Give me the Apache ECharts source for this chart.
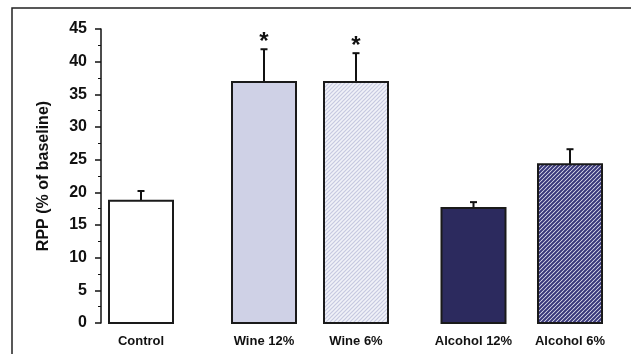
<!DOCTYPE html>
<html>
<head>
<meta charset="utf-8">
<script src="https://cdn.jsdelivr.net/npm/echarts@6/dist/echarts.min.js"></script>
<style>
  html, body { margin: 0; padding: 0; background: #fff; }
  #chart { width: 631px; height: 354px; }
</style>
</head>
<body>
<div id="chart"></div>
<script>
// data
var groups = ['Control', 'Wine 12%', 'Wine 6%', 'Alcohol 12%', 'Alcohol 6%'];
var rppMean = [18.7, 36.9, 36.9, 17.6, 24.3];
var rppErr = [1.5, 5.0, 4.4, 0.9, 2.3];
var starred = [false, true, true, false, false];
var yTicks = [0, 5, 10, 15, 20, 25, 30, 35, 40, 45];

// layout: where each group sits along the (hidden) x scale
var groupPos = [4.0, 16.3, 25.5, 37.25, 46.9];
var barHalf = 3.2;

function hatch(bg, fg, size, lw) {
    var c = document.createElement('canvas');
    c.width = size; c.height = size;
    var ctx = c.getContext('2d');
    ctx.fillStyle = bg;
    ctx.fillRect(0, 0, size, size);
    ctx.strokeStyle = fg;
    ctx.lineWidth = lw;
    ctx.beginPath();
    ctx.moveTo(-1, size + 1); ctx.lineTo(size + 1, -1);
    ctx.moveTo(-1, 1); ctx.lineTo(1, -1);
    ctx.moveTo(size - 1, size + 1); ctx.lineTo(size + 1, size - 1);
    ctx.stroke();
    return { image: c, repeat: 'repeat' };
}

var fills = [
    '#ffffff',
    '#cfd1e6',
    hatch('#f1f2f8', '#c6c9e0', 4, 1.2),
    '#2c2a5e',
    hatch('#eaeaf4', '#38377a', 4, 2)
];

var chart = echarts.init(document.getElementById('chart'));

var option = {
    animation: false,
    backgroundColor: '#fff',
    grid: { left: 101, right: 10, top: 29, bottom: 31 },
    graphic: [{
        type: 'rect',
        shape: { x: 12, y: 8, width: 640, height: 360 },
        style: { fill: 'none', stroke: '#222', lineWidth: 1.5 },
        silent: true
    }],
    xAxis: {
        type: 'value',
        min: 0,
        max: 52,
        axisLine: { show: false },
        axisTick: { show: false },
        splitLine: { show: false },
        axisLabel: {
            customValues: groupPos,
            margin: 12,
            fontFamily: 'Liberation Sans, Arial',
            fontWeight: 'bold',
            fontSize: 13,
            color: '#111',
            formatter: function (v) {
                var i = groupPos.indexOf(v);
                return i >= 0 ? groups[i] : '';
            }
        }
    },
    yAxis: {
        type: 'value',
        min: yTicks[0],
        max: yTicks[yTicks.length - 1],
        interval: 5,
        name: 'RPP (% of baseline)',
        nameLocation: 'middle',
        nameRotate: 90,
        nameGap: 49,
        nameTextStyle: {
            fontFamily: 'Liberation Sans, Arial',
            fontWeight: 'bold',
            fontSize: 16,
            color: '#111'
        },
        axisLine: { show: true, lineStyle: { color: '#111', width: 1.5 } },
        axisTick: { show: true, length: 6, lineStyle: { color: '#111', width: 1.5 } },
        minorTick: { show: true, splitNumber: 2, length: 3, lineStyle: { color: '#111', width: 1 } },
        splitLine: { show: false },
        axisLabel: {
            margin: 14,
            fontFamily: 'Liberation Sans, Arial',
            fontWeight: 'bold',
            fontSize: 16,
            color: '#111'
        }
    },
    series: [{
        type: 'custom',
        data: groups.map(function (g, i) {
            return [groupPos[i], rppMean[i], rppErr[i], i];
        }),
        encode: { x: 0, y: 1 },
        renderItem: function (params, api) {
            var x = api.value(0), m = api.value(1), e = api.value(2), i = api.value(3);
            var p0 = api.coord([x - barHalf, m]);
            var p1 = api.coord([x + barHalf, 0]);
            var top = api.coord([x, m]);
            var cap = api.coord([x, m + e]);
            var kids = [
                {
                    type: 'line',
                    shape: { x1: top[0], y1: top[1], x2: cap[0], y2: cap[1] },
                    style: { stroke: '#111', lineWidth: 2 }
                },
                {
                    type: 'line',
                    shape: { x1: cap[0] - 3.5, y1: cap[1], x2: cap[0] + 3.5, y2: cap[1] },
                    style: { stroke: '#111', lineWidth: 2 }
                },
                {
                    type: 'rect',
                    shape: { x: p0[0], y: p0[1], width: p1[0] - p0[0], height: p1[1] - p0[1] },
                    style: { fill: fills[i], stroke: '#1a1a1a', lineWidth: 2 }
                }
            ];
            if (starred[i]) {
                kids.push({
                    type: 'text',
                    style: {
                        text: '*',
                        x: cap[0],
                        y: cap[1] - 7,
                        align: 'center',
                        verticalAlign: 'middle',
                        font: 'bold 24px "Liberation Sans", Arial',
                        fill: '#111'
                    }
                });
            }
            return { type: 'group', children: kids };
        }
    }]
};

chart.setOption(option);
</script>
</body>
</html>
